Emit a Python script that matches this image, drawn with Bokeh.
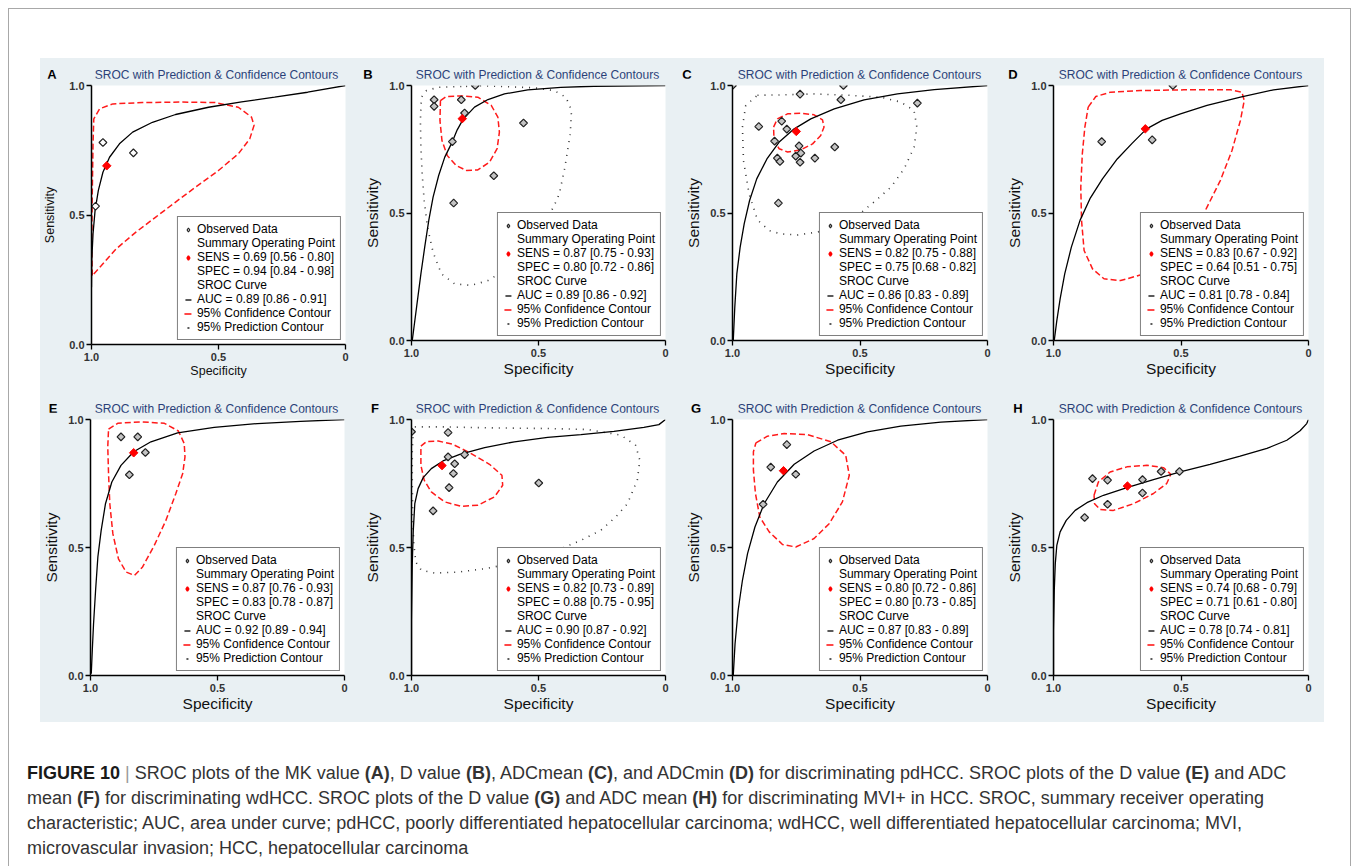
import math
from bokeh.plotting import figure
from bokeh.layouts import row, column
from bokeh.models import Range1d, FixedTicker, Legend, LegendItem, Div
from bokeh.embed import file_html
from bokeh.resources import INLINE

# ---------------- data ----------------
PANELS = ["A", "B", "C", "D", "E", "F", "G", "H"]
SENS_EST = [0.69, 0.87, 0.82, 0.83, 0.87, 0.82, 0.80, 0.74]
SENS_LO = [0.56, 0.75, 0.75, 0.67, 0.76, 0.73, 0.72, 0.68]
SENS_HI = [0.80, 0.93, 0.88, 0.92, 0.93, 0.89, 0.86, 0.79]
SPEC_EST = [0.94, 0.80, 0.75, 0.64, 0.83, 0.88, 0.80, 0.71]
SPEC_LO = [0.84, 0.72, 0.68, 0.51, 0.78, 0.75, 0.73, 0.61]
SPEC_HI = [0.98, 0.86, 0.82, 0.75, 0.87, 0.95, 0.85, 0.80]
AUC_EST = [0.89, 0.89, 0.86, 0.81, 0.92, 0.90, 0.87, 0.78]
AUC_LO = [0.86, 0.86, 0.83, 0.78, 0.89, 0.87, 0.83, 0.74]
AUC_HI = [0.91, 0.92, 0.89, 0.84, 0.94, 0.92, 0.89, 0.81]

A_obs_spec = [0.955, 0.835, 0.984]
A_obs_sens = [0.78, 0.74, 0.534]
A_sroc_spec = [1.0, 0.999, 0.994, 0.986, 0.973, 0.955, 0.929, 0.890, 0.838, 0.760, 0.669, 0.539, 0.409, 0.279, 0.149, 0.0]
A_sroc_sens = [0.221, 0.324, 0.427, 0.517, 0.595, 0.665, 0.723, 0.775, 0.820, 0.858, 0.888, 0.916, 0.937, 0.955, 0.974, 1.0]
A_conf_spec = [0.997, 0.999, 0.997, 0.994, 0.991, 0.968, 0.916, 0.799, 0.643, 0.513, 0.422, 0.370, 0.360, 0.377, 0.422, 0.500, 0.591, 0.669, 0.747, 0.825, 0.903, 0.961]
A_conf_sens = [0.266, 0.376, 0.582, 0.775, 0.871, 0.910, 0.929, 0.934, 0.936, 0.934, 0.916, 0.878, 0.846, 0.794, 0.736, 0.672, 0.607, 0.550, 0.492, 0.434, 0.369, 0.305]
A_pred_spec = []
A_pred_sens = []

B_obs_spec = [0.911, 0.911, 0.804, 0.749, 0.791, 0.559, 0.839, 0.676, 0.834]
B_obs_sens = [0.944, 0.918, 0.944, 1.0, 0.892, 0.853, 0.780, 0.646, 0.539]
B_sroc_spec = [0.997, 0.980, 0.963, 0.948, 0.932, 0.915, 0.893, 0.869, 0.839, 0.820, 0.797, 0.752, 0.699, 0.634, 0.542, 0.412, 0.281, 0.0]
B_sroc_sens = [0.0, 0.131, 0.261, 0.366, 0.471, 0.562, 0.647, 0.719, 0.780, 0.826, 0.867, 0.915, 0.945, 0.967, 0.983, 0.993, 0.997, 1.0]
B_conf_spec = [0.886, 0.863, 0.804, 0.739, 0.686, 0.660, 0.654, 0.663, 0.693, 0.739, 0.784, 0.824, 0.859, 0.880, 0.888]
B_conf_sens = [0.941, 0.957, 0.959, 0.954, 0.922, 0.876, 0.817, 0.752, 0.699, 0.669, 0.667, 0.686, 0.725, 0.784, 0.863]
B_pred_spec = [0.804, 0.895, 0.941, 0.961, 0.965, 0.963, 0.958, 0.950, 0.937, 0.915, 0.882, 0.830, 0.765, 0.699, 0.634, 0.542, 0.441, 0.418, 0.396, 0.375, 0.370, 0.392, 0.438, 0.516, 0.647, 0.725]
B_pred_sens = [0.996, 0.993, 0.980, 0.954, 0.863, 0.758, 0.654, 0.549, 0.444, 0.346, 0.261, 0.222, 0.216, 0.235, 0.275, 0.353, 0.523, 0.575, 0.680, 0.810, 0.902, 0.954, 0.980, 0.991, 0.996, 0.999]

C_obs_spec = [1.0, 0.565, 0.735, 0.575, 0.275, 0.897, 0.807, 0.787, 0.835, 0.739, 0.599, 0.824, 0.814, 0.752, 0.732, 0.735, 0.677, 0.820]
C_obs_sens = [1.0, 1.0, 0.966, 0.944, 0.931, 0.839, 0.860, 0.829, 0.782, 0.763, 0.759, 0.715, 0.702, 0.723, 0.735, 0.699, 0.715, 0.539]
C_sroc_spec = [0.997, 0.991, 0.983, 0.970, 0.954, 0.933, 0.905, 0.865, 0.817, 0.758, 0.693, 0.601, 0.484, 0.353, 0.209, 0.0]
C_sroc_sens = [0.0, 0.131, 0.261, 0.366, 0.458, 0.549, 0.634, 0.712, 0.778, 0.830, 0.869, 0.908, 0.944, 0.967, 0.984, 1.0]
C_conf_spec = [0.839, 0.824, 0.784, 0.732, 0.680, 0.647, 0.641, 0.654, 0.686, 0.732, 0.784, 0.817, 0.837]
C_conf_sens = [0.837, 0.869, 0.889, 0.891, 0.885, 0.865, 0.837, 0.804, 0.771, 0.748, 0.739, 0.752, 0.784]
C_pred_spec = [0.902, 0.810, 0.680, 0.549, 0.418, 0.340, 0.288, 0.277, 0.288, 0.327, 0.379, 0.438, 0.510, 0.588, 0.667, 0.745, 0.810, 0.856, 0.902, 0.935, 0.957, 0.961, 0.948]
C_pred_sens = [0.962, 0.963, 0.967, 0.962, 0.954, 0.935, 0.902, 0.837, 0.758, 0.673, 0.601, 0.549, 0.490, 0.451, 0.425, 0.414, 0.418, 0.431, 0.473, 0.575, 0.706, 0.837, 0.922]

D_obs_spec = [0.532, 0.811, 0.613]
D_obs_sens = [1.0, 0.780, 0.787]
D_sroc_spec = [0.997, 0.987, 0.974, 0.956, 0.930, 0.896, 0.857, 0.808, 0.750, 0.691, 0.635, 0.574, 0.502, 0.398, 0.267, 0.137, 0.0]
D_sroc_sens = [0.0, 0.078, 0.163, 0.261, 0.366, 0.471, 0.556, 0.634, 0.712, 0.774, 0.830, 0.863, 0.889, 0.922, 0.954, 0.983, 1.0]
D_conf_spec = [0.864, 0.834, 0.776, 0.658, 0.489, 0.306, 0.261, 0.252, 0.267, 0.300, 0.346, 0.398, 0.450, 0.554, 0.645, 0.737, 0.802, 0.847, 0.880, 0.890, 0.893, 0.887, 0.877]
D_conf_sens = [0.915, 0.957, 0.974, 0.980, 0.983, 0.983, 0.974, 0.941, 0.863, 0.745, 0.627, 0.523, 0.418, 0.314, 0.261, 0.235, 0.242, 0.281, 0.353, 0.471, 0.601, 0.732, 0.837]
D_pred_spec = []
D_pred_sens = []

E_obs_spec = [0.880, 0.814, 0.784, 0.847]
E_obs_sens = [0.932, 0.932, 0.871, 0.784]
E_sroc_spec = [0.997, 0.993, 0.988, 0.980, 0.971, 0.958, 0.941, 0.916, 0.880, 0.830, 0.762, 0.657, 0.513, 0.343, 0.173, 0.0]
E_sroc_sens = [0.007, 0.098, 0.202, 0.332, 0.463, 0.567, 0.671, 0.756, 0.821, 0.874, 0.913, 0.948, 0.969, 0.984, 0.993, 1.0]
E_conf_spec = [0.929, 0.893, 0.801, 0.709, 0.654, 0.631, 0.628, 0.637, 0.664, 0.703, 0.749, 0.795, 0.827, 0.860, 0.890, 0.912, 0.924, 0.929, 0.932]
E_conf_sens = [0.962, 0.985, 0.991, 0.985, 0.955, 0.906, 0.854, 0.789, 0.711, 0.606, 0.508, 0.424, 0.391, 0.404, 0.456, 0.554, 0.671, 0.789, 0.893]
E_pred_spec = []
E_pred_sens = []

F_obs_spec = [1.0, 0.856, 0.856, 0.830, 0.791, 0.835, 0.852, 0.915, 0.499]
F_obs_sens = [0.952, 0.949, 0.854, 0.827, 0.863, 0.789, 0.734, 0.643, 0.752]
F_sroc_spec = [1.0, 1.0, 0.997, 0.993, 0.987, 0.974, 0.954, 0.922, 0.876, 0.810, 0.712, 0.595, 0.464, 0.333, 0.203, 0.085, 0.026, 0.0]
F_sroc_sens = [0.0, 0.215, 0.437, 0.567, 0.671, 0.730, 0.773, 0.808, 0.838, 0.864, 0.890, 0.913, 0.930, 0.941, 0.954, 0.969, 0.980, 1.0]
F_conf_spec = [0.963, 0.941, 0.895, 0.837, 0.765, 0.693, 0.644, 0.641, 0.673, 0.739, 0.804, 0.869, 0.922, 0.950, 0.963]
F_conf_sens = [0.896, 0.914, 0.916, 0.903, 0.867, 0.825, 0.782, 0.743, 0.698, 0.665, 0.661, 0.678, 0.717, 0.763, 0.821]
F_pred_spec = [0.987, 0.869, 0.673, 0.477, 0.307, 0.176, 0.118, 0.101, 0.111, 0.150, 0.196, 0.255, 0.333, 0.412, 0.503, 0.608, 0.712, 0.817, 0.908, 0.961, 0.983, 0.991, 0.995, 0.997, 0.997, 0.993]
F_pred_sens = [0.971, 0.971, 0.967, 0.965, 0.961, 0.939, 0.900, 0.841, 0.763, 0.671, 0.619, 0.567, 0.528, 0.495, 0.463, 0.437, 0.417, 0.404, 0.400, 0.411, 0.443, 0.515, 0.619, 0.750, 0.880, 0.952]

G_obs_spec = [0.787, 0.850, 0.752, 0.880]
G_obs_sens = [0.902, 0.814, 0.786, 0.669]
G_sroc_spec = [0.997, 0.990, 0.978, 0.961, 0.941, 0.912, 0.876, 0.824, 0.758, 0.680, 0.588, 0.471, 0.340, 0.183, 0.0]
G_sroc_sens = [0.0, 0.124, 0.254, 0.372, 0.476, 0.580, 0.671, 0.756, 0.825, 0.877, 0.919, 0.952, 0.974, 0.990, 1.0]
G_conf_spec = [0.908, 0.863, 0.797, 0.706, 0.614, 0.556, 0.542, 0.569, 0.621, 0.680, 0.752, 0.804, 0.856, 0.893, 0.910, 0.918, 0.918]
G_conf_sens = [0.909, 0.935, 0.945, 0.941, 0.913, 0.860, 0.782, 0.678, 0.593, 0.535, 0.502, 0.512, 0.561, 0.619, 0.711, 0.802, 0.874]
G_pred_spec = []
G_pred_sens = []

H_obs_spec = [0.847, 0.788, 0.651, 0.578, 0.506, 0.651, 0.788, 0.878]
H_obs_sens = [0.769, 0.763, 0.765, 0.797, 0.797, 0.713, 0.669, 0.617]
H_sroc_spec = [1.0, 1.0, 0.997, 0.993, 0.987, 0.974, 0.950, 0.915, 0.869, 0.804, 0.712, 0.608, 0.503, 0.386, 0.268, 0.163, 0.085, 0.033, 0.007, 0.0]
H_sroc_sens = [0.0, 0.176, 0.332, 0.437, 0.508, 0.561, 0.606, 0.645, 0.675, 0.704, 0.734, 0.765, 0.795, 0.825, 0.857, 0.887, 0.919, 0.956, 0.984, 1.0]
H_conf_spec = [0.841, 0.824, 0.778, 0.712, 0.634, 0.569, 0.540, 0.556, 0.608, 0.686, 0.765, 0.817, 0.839]
H_conf_sens = [0.704, 0.756, 0.795, 0.815, 0.821, 0.812, 0.786, 0.750, 0.711, 0.671, 0.645, 0.648, 0.671]
H_pred_spec = []
H_pred_sens = []

X_TICKS = {0: "0", 0.5: "0.5", 1: "1.0"}
Y_TICKS = {0: "0.0", 0.5: "0.5", 1: "1.0"}
TITLE = "SROC with Prediction &amp; Confidence Contours"

# ---------------- styling / layout ----------------
BG = "#e9f0f3"
TITLE_COLOR = "#2a3f78"
FONT = "Liberation Sans"
NAN = float("nan")

G = globals()
LAYOUT = {
    #   header_h, fig_h, mbl, mbr, mbb, letter_cx, text_cy
    "A": (20, 312, 48, 16, 46, 12, 17),
    "B": (20, 312, 49, 17, 50, 7, 17),
    "C": (20, 312, 50, 16, 50, 5, 17),
    "D": (20, 312, 50, 16, 50, 10, 17),
    "E": (22, 310, 49, 17, 47, 13, 19),
    "F": (22, 310, 49, 17, 47, 14, 19),
    "G": (22, 310, 50, 16, 47, 14, 19),
    "H": (22, 310, 50, 16, 47, 15, 19),
}


def closed(xs, ys):
    return list(xs) + list(xs[:1]), list(ys) + list(ys[:1])


def make_header(letter):
    hh, fh, mbl, mbr, mbb, lcx, tcy = LAYOUT[letter]
    fw = 321 - mbl - mbr
    html = (
        f'<div style="position:relative;width:321px;height:{hh}px;overflow:visible;">'
        f'<span style="position:absolute;left:{lcx - 10}px;width:20px;top:{tcy - 8}px;'
        f'line-height:16px;text-align:center;font-family:\'{FONT}\';font-size:13px;'
        f'font-weight:bold;color:#000;">{letter}</span>'
        f'<span style="position:absolute;left:{mbl}px;width:{fw}px;top:{tcy - 7}px;'
        f'line-height:14px;text-align:center;font-family:\'{FONT}\';font-size:12px;'
        f'color:{TITLE_COLOR};white-space:nowrap;">{TITLE}</span></div>'
    )
    return Div(text=html, width=321, height=hh, margin=0, styles={"overflow": "visible"})


def make_panel(i, letter):
    hh, fh, mbl, mbr, mbb, lcx, tcy = LAYOUT[letter]
    p = figure(width=321, height=fh, x_range=Range1d(1, 0), y_range=Range1d(0, 1),
               output_backend="svg", toolbar_location=None,
               min_border_left=mbl, min_border_right=mbr,
               min_border_top=7, min_border_bottom=mbb)
    p.background_fill_color = "white"
    p.border_fill_color = BG
    p.outline_line_color = None
    p.grid.visible = False

    small = (letter == "A")
    for ax in (p.xaxis[0], p.yaxis[0]):
        ax.ticker = FixedTicker(ticks=[0, 0.5, 1])
        ax.minor_tick_line_color = None
        ax.major_tick_in = 0
        ax.major_tick_out = 5
        ax.axis_line_width = 1.5
        ax.axis_line_color = "black"
        ax.major_tick_line_color = "black"
        ax.major_tick_line_width = 1.3
        ax.major_label_text_font = FONT
        ax.major_label_text_font_size = "11px"
        ax.major_label_text_font_style = "bold"
        ax.major_label_text_color = "#333333"
        ax.axis_label_text_font = FONT
        ax.axis_label_text_font_style = "normal"
        ax.axis_label_text_color = "#111111"
        ax.axis_label_text_font_size = "12.5px" if small else "15.5px"
    p.xaxis[0].major_label_overrides = X_TICKS
    p.yaxis[0].major_label_overrides = Y_TICKS
    p.xaxis[0].axis_label = "Specificity"
    p.yaxis[0].axis_label = "Sensitivity"
    p.xaxis[0].major_label_standoff = 3
    p.yaxis[0].major_label_standoff = 2
    p.xaxis[0].axis_label_standoff = 0
    p.yaxis[0].axis_label_standoff = 9 if small else 5

    obs_x, obs_y = G[letter + "_obs_spec"], G[letter + "_obs_sens"]
    sx, sy = G[letter + "_sroc_spec"], G[letter + "_sroc_sens"]
    cx, cy = closed(G[letter + "_conf_spec"], G[letter + "_conf_sens"])
    px, py = G[letter + "_pred_spec"], G[letter + "_pred_sens"]

    if px:
        px, py = closed(px, py)
        p.line(px, py, line_color="#333333", line_width=1.6, line_dash="1 6")
    p.line(cx, cy, line_color="#ff1a1a", line_width=1.5, line_dash="6 3")
    sroc_r = p.line(sx, sy, line_color="black", line_width=1.3)
    obs_fill = "white" if small else "#c4c4c4"
    p.scatter(obs_x, obs_y, marker="square", angle=math.pi / 4, size=5.5,
              fill_color=obs_fill, line_color="#222222", line_width=1.2)
    p.scatter([SPEC_EST[i]], [SENS_EST[i]], marker="square", angle=math.pi / 4,
              size=6, fill_color="#ff0000", line_color="#ff0000")

    # legend-only glyphs (no visible data)
    obs_leg = p.scatter([NAN], [NAN], marker="diamond", size=9, fill_color=obs_fill,
                        line_color="#222222", line_width=1.2)
    sum_leg = p.scatter([NAN], [NAN], marker="diamond", size=9, fill_color="#ff0000",
                        line_color="#ff0000", line_width=1.5)
    blank = p.scatter([NAN], [NAN], marker="circle", fill_alpha=0, line_alpha=0)
    sroc_leg = p.line([NAN, NAN], [NAN, NAN], line_color="black", line_width=1.3,
                      line_dash="6 20", line_dash_offset=-2)
    conf_leg = p.line([NAN, NAN], [NAN, NAN], line_color="#ff1a1a", line_width=1.6,
                      line_dash="7 20", line_dash_offset=-1)
    pred_leg = p.line([NAN, NAN], [NAN, NAN], line_color="#333333", line_width=1.6,
                      line_dash="2 20", line_dash_offset=-4)

    items = [
        LegendItem(label="Observed Data", renderers=[obs_leg]),
        LegendItem(label="Summary Operating Point", renderers=[blank]),
        LegendItem(label="SENS = %.2f [%.2f - %.2f]" % (SENS_EST[i], SENS_LO[i], SENS_HI[i]), renderers=[sum_leg]),
        LegendItem(label="SPEC = %.2f [%.2f - %.2f]" % (SPEC_EST[i], SPEC_LO[i], SPEC_HI[i]), renderers=[blank]),
        LegendItem(label="SROC Curve", renderers=[blank]),
        LegendItem(label="AUC = %.2f [%.2f - %.2f]" % (AUC_EST[i], AUC_LO[i], AUC_HI[i]), renderers=[sroc_leg]),
        LegendItem(label="95% Confidence Contour", renderers=[conf_leg]),
        LegendItem(label="95% Prediction Contour", renderers=[pred_leg]),
    ]
    leg = Legend(items=items, location="bottom_right", margin=4, padding=5, spacing=0,
                 glyph_width=10, glyph_height=13, label_height=13, label_standoff=4,
                 label_text_font=FONT, label_text_font_size="12px", label_text_color="black",
                 border_line_color="black", border_line_width=1.5,
                 background_fill_color="white", background_fill_alpha=1.0)
    p.add_layout(leg)
    return column(make_header(letter), p, spacing=0)


panels = [make_panel(i, L) for i, L in enumerate(PANELS)]

grid = column(row(*panels[:4], spacing=0), row(*panels[4:], spacing=0), spacing=0,
              styles={"background-color": BG}, margin=(49, 0, 0, 31))

caption_html = (
    f'<div style="font-family:\'{FONT}\',Arial,sans-serif;font-size:18px;'
    'line-height:25px;color:#333333;white-space:nowrap;">'
    '<b style="color:#1a1a1a">FIGURE 10</b> <span style="color:#9a9a9a">|</span> '
    'SROC plots of the MK value <b>(A)</b>, D value <b>(B)</b>, ADCmean <b>(C)</b>, '
    'and ADCmin <b>(D)</b> for discriminating pdHCC. SROC plots of the D value <b>(E)</b> and ADC<br>'
    'mean <b>(F)</b> for discriminating wdHCC. SROC plots of the D value <b>(G)</b> and ADC mean '
    '<b>(H)</b> for discriminating MVI+ in HCC. SROC, summary receiver operating<br>'
    'characteristic; AUC, area under curve; pdHCC, poorly differentiated hepatocellular carcinoma; '
    'wdHCC, well differentiated hepatocellular carcinoma; MVI,<br>'
    'microvascular invasion; HCC, hepatocellular carcinoma</div>'
)
caption = Div(text=caption_html, width=1300, margin=(39, 0, 0, 18))

root = column(grid, caption, width=1343, height=858, margin=(8, 0, 0, 8), spacing=0,
              styles={"border": "1px solid #a8a8a8", "border-bottom": "none",
                      "background-color": "white"})

open("out.html", "w").write(file_html(root, INLINE))
